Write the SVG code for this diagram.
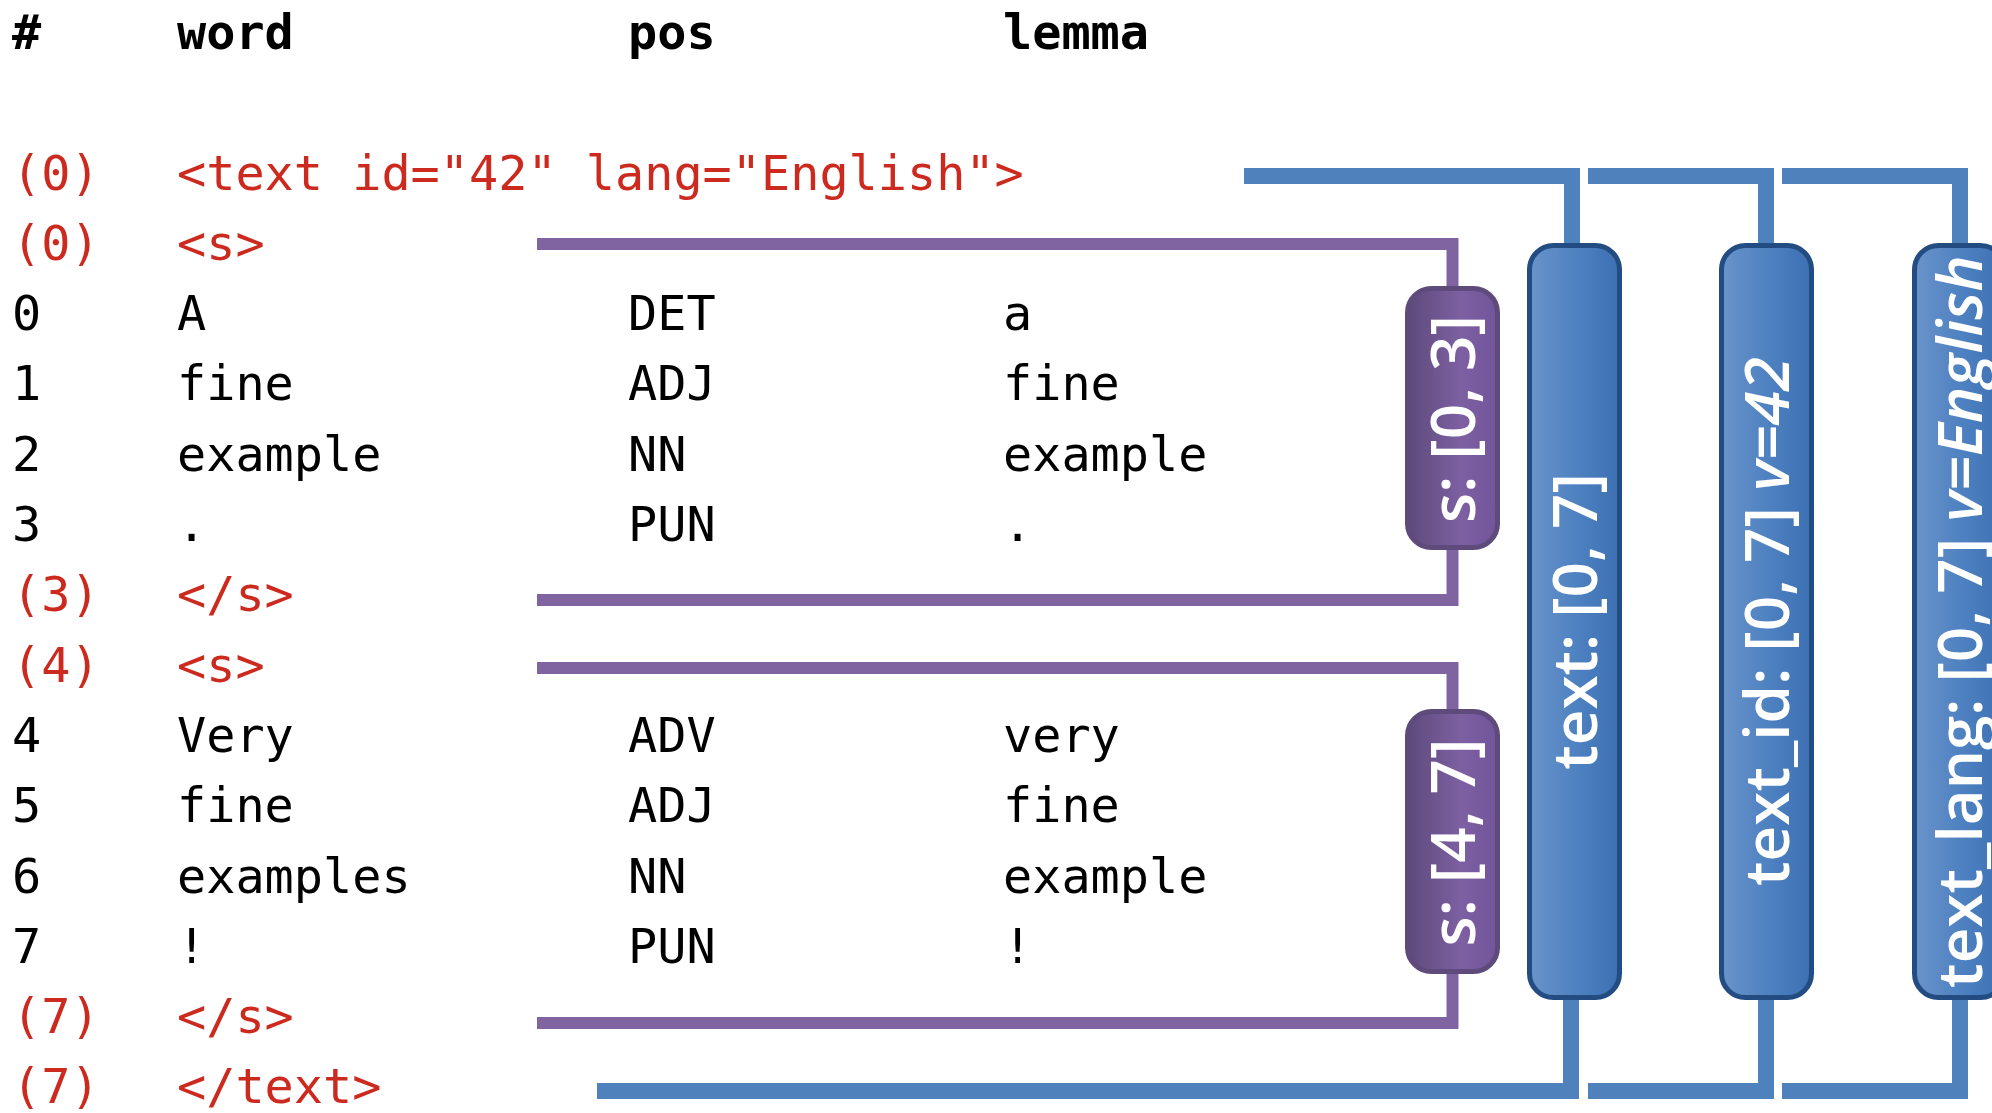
<svg xmlns="http://www.w3.org/2000/svg" width="1992" height="1113" viewBox="0 0 1992 1113">
<defs>
<linearGradient id="gBlue" x1="0" y1="0" x2="1" y2="0">
<stop offset="0" stop-color="#6a93ca"/>
<stop offset="0.5" stop-color="#4f82c1"/>
<stop offset="1" stop-color="#3c70b3"/>
</linearGradient>
<linearGradient id="gPurple" x1="0" y1="0" x2="1" y2="0">
<stop offset="0" stop-color="#5d4a7b"/>
<stop offset="0.6" stop-color="#7d60a2"/>
<stop offset="1" stop-color="#71549a"/>
</linearGradient>
<style>
.m{font-family:"DejaVu Sans Mono","Liberation Mono",monospace;font-size:48.5px;fill:#000}
.h{font-weight:bold}
.r{fill:#cc2a1e}
.pl{fill:none;stroke:#8064a2;stroke-width:12}
.bl{fill:none;stroke:#4f81bd;stroke-width:16}
.sbox{fill:url(#gPurple);stroke:#5e4a7b;stroke-width:5}
.bbox{fill:url(#gBlue);stroke:#234d82;stroke-width:5}
.lab{font-family:"Open Sans","Noto Sans",sans-serif;font-weight:600;font-size:62px;fill:#fff;text-anchor:middle}
.it{font-style:italic}
</style>
</defs>
<rect width="1992" height="1113" fill="#fff"/>

<g id="table">
<text class="m h" x="12" y="49">#</text>
<text class="m h" x="177" y="49">word</text>
<text class="m h" x="628" y="49">pos</text>
<text class="m h" x="1003" y="49">lemma</text>

<text class="m r" x="12" y="189.5">(0)</text>
<text class="m r" x="177" y="189.5">&lt;text id="42" lang="English"&gt;</text>
<text class="m r" x="12" y="259.8">(0)</text>
<text class="m r" x="177" y="259.8">&lt;s&gt;</text>

<text class="m" x="12" y="330.1">0</text><text class="m" x="177" y="330.1">A</text><text class="m" x="628" y="330.1">DET</text><text class="m" x="1003" y="330.1">a</text>
<text class="m" x="12" y="400.4">1</text><text class="m" x="177" y="400.4">fine</text><text class="m" x="628" y="400.4">ADJ</text><text class="m" x="1003" y="400.4">fine</text>
<text class="m" x="12" y="470.7">2</text><text class="m" x="177" y="470.7">example</text><text class="m" x="628" y="470.7">NN</text><text class="m" x="1003" y="470.7">example</text>
<text class="m" x="12" y="541">3</text><text class="m" x="177" y="541">.</text><text class="m" x="628" y="541">PUN</text><text class="m" x="1003" y="541">.</text>

<text class="m r" x="12" y="611.3">(3)</text>
<text class="m r" x="177" y="611.3">&lt;/s&gt;</text>
<text class="m r" x="12" y="681.6">(4)</text>
<text class="m r" x="177" y="681.6">&lt;s&gt;</text>

<text class="m" x="12" y="751.9">4</text><text class="m" x="177" y="751.9">Very</text><text class="m" x="628" y="751.9">ADV</text><text class="m" x="1003" y="751.9">very</text>
<text class="m" x="12" y="822.2">5</text><text class="m" x="177" y="822.2">fine</text><text class="m" x="628" y="822.2">ADJ</text><text class="m" x="1003" y="822.2">fine</text>
<text class="m" x="12" y="892.5">6</text><text class="m" x="177" y="892.5">examples</text><text class="m" x="628" y="892.5">NN</text><text class="m" x="1003" y="892.5">example</text>
<text class="m" x="12" y="962.8">7</text><text class="m" x="177" y="962.8">!</text><text class="m" x="628" y="962.8">PUN</text><text class="m" x="1003" y="962.8">!</text>

<text class="m r" x="12" y="1033.1">(7)</text>
<text class="m r" x="177" y="1033.1">&lt;/s&gt;</text>
<text class="m r" x="12" y="1103.4">(7)</text>
<text class="m r" x="177" y="1103.4">&lt;/text&gt;</text>
</g>

<g id="connectors">
<path class="pl" d="M537,244 H1452.5 V288"/>
<path class="pl" d="M537,600 H1452.5 V548"/>
<path class="pl" d="M537,668 H1452.5 V712"/>
<path class="pl" d="M537,1023 H1452.5 V971"/>
<path class="bl" d="M1244,176 H1572 V246"/>
<path class="bl" d="M1588,176 H1766 V246"/>
<path class="bl" d="M1782,176 H1960 V246"/>
<path class="bl" d="M597,1091 H1571 V996"/>
<path class="bl" d="M1588,1091 H1766 V996"/>
<path class="bl" d="M1782,1091 H1960 V996"/>
</g>

<g id="s1">
<rect class="sbox" x="1407.5" y="288.5" width="90" height="259" rx="24"/>
<text class="lab" transform="translate(1475,419) rotate(-90)">s: [0, 3]</text>
</g>
<g id="s2">
<rect class="sbox" x="1407.5" y="711.5" width="90" height="260" rx="24"/>
<text class="lab" transform="translate(1475,842.5) rotate(-90)">s: [4, 7]</text>
</g>
<g id="text">
<rect class="bbox" x="1529.5" y="245.5" width="90" height="752" rx="24"/>
<text class="lab" transform="translate(1597,621.5) rotate(-90)">text: [0, 7]</text>
</g>
<g id="text_id">
<rect class="bbox" x="1721.5" y="245.5" width="90" height="752" rx="24"/>
<text class="lab" transform="translate(1789,621.5) rotate(-90)">text_id: [0, 7] <tspan class="it">v=42</tspan></text>
</g>
<g id="text_lang">
<rect class="bbox" x="1914.5" y="245.5" width="90" height="752" rx="24"/>
<text class="lab" transform="translate(1982,621.5) rotate(-90)">text_lang: [0, 7] <tspan class="it">v=English</tspan></text>
</g>
</svg>
